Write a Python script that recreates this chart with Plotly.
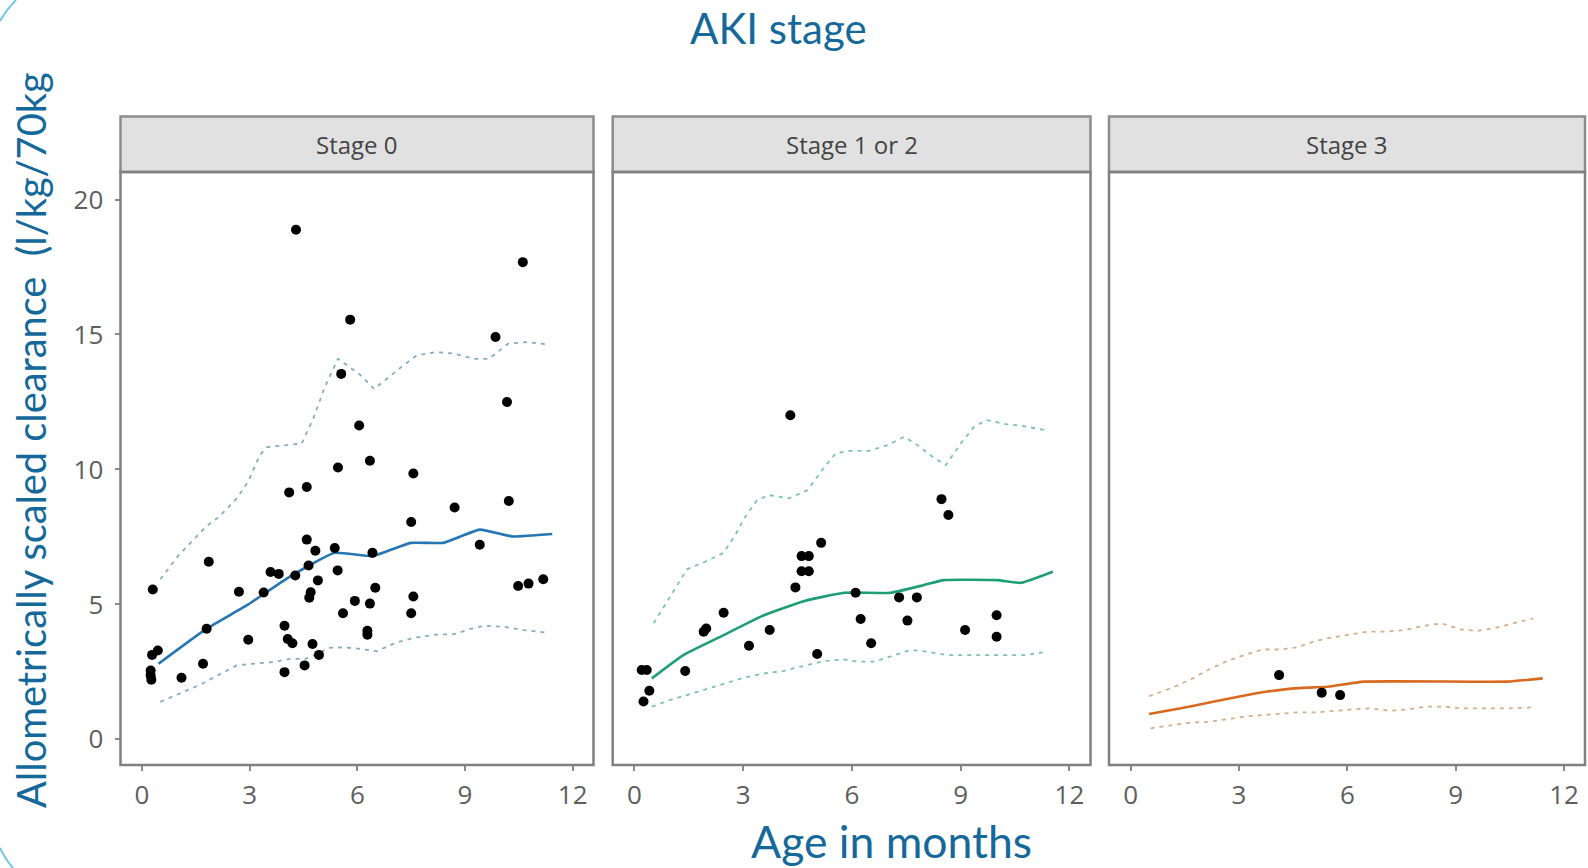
import plotly.graph_objects as go

# ---- Observed clearance per AKI stage (age in months, clearance l/kg/70kg) ----
stage0_age = [4.29, 10.61, 5.80, 9.85, 5.55, 10.17, 6.05, 5.46, 6.35, 7.56, 4.10, 4.59,
              8.71, 10.22, 7.50, 4.59, 4.83, 5.37, 6.42, 9.41, 1.86, 3.58, 3.81, 4.27,
              4.64, 5.45, 4.90, 6.50, 0.30, 2.70, 3.39, 4.70, 4.66, 5.93, 6.35, 7.56,
              5.60, 7.50, 6.28, 6.28, 10.48, 10.77, 11.18, 1.80, 3.97, 2.96, 4.06, 4.19,
              4.75, 4.93, 0.44, 0.28, 1.70, 4.53, 3.97, 1.10, 0.24, 0.24, 0.26]
stage0_cl = [18.88, 17.68, 15.55, 14.91, 13.54, 12.50, 11.63, 10.07, 10.32, 9.85, 9.15, 9.35,
             8.59, 8.83, 8.05, 7.40, 6.99, 7.09, 6.91, 7.21, 6.58, 6.20, 6.13, 6.07,
             6.44, 6.26, 5.89, 5.62, 5.55, 5.47, 5.44, 5.45, 5.25, 5.13, 5.03, 5.29,
             4.67, 4.67, 4.02, 3.88, 5.68, 5.77, 5.93, 4.10, 4.21, 3.69, 3.72, 3.56,
             3.53, 3.13, 3.29, 3.13, 2.80, 2.74, 2.49, 2.28, 2.55, 2.37, 2.21]

stage12_age = [4.30, 8.47, 8.66, 5.15, 4.61, 4.81, 4.61, 4.81, 4.44, 6.10, 7.30, 7.79,
               2.46, 1.98, 1.91, 3.73, 6.24, 7.53, 9.12, 9.99, 9.99, 3.16, 6.53, 5.04,
               1.40, 0.20, 0.34, 0.41, 0.25]
stage12_cl = [12.01, 8.90, 8.31, 7.28, 6.79, 6.79, 6.23, 6.23, 5.63, 5.43, 5.26, 5.26,
              4.69, 4.11, 3.99, 4.05, 4.46, 4.40, 4.05, 4.60, 3.80, 3.47, 3.56, 3.16,
              2.53, 2.57, 2.57, 1.80, 1.40]

stage3_age = [4.11, 5.29, 5.80]
stage3_cl = [2.38, 1.73, 1.64]

# ---- Model prediction: median and 5th/95th percentile curves ----
s0_med_age = [0.46, 1.80, 2.96, 4.13, 5.37, 6.42, 7.49, 8.39, 9.41, 10.31, 11.43]
s0_med = [2.80, 4.10, 5.00, 6.04, 6.91, 6.79, 7.28, 7.28, 7.77, 7.52, 7.61]
s0_hi_age = [0.51, 1.00, 1.79, 2.16, 2.64, 2.96, 3.28, 3.49, 4.45, 4.77, 5.09, 5.46,
             6.05, 6.47, 7.22, 7.65, 8.18, 8.71, 9.24, 9.67, 10.20, 10.73, 11.32]
s0_hi = [5.93, 6.79, 7.89, 8.26, 8.93, 9.55, 10.53, 10.83, 10.96, 11.88, 13.04, 14.10,
         13.54, 12.98, 13.79, 14.22, 14.35, 14.29, 14.10, 14.10, 14.66, 14.72, 14.63]
s0_lo_age = [0.51, 1.04, 1.68, 2.11, 2.64, 3.07, 3.60, 4.13, 4.56, 4.88, 5.20, 5.62,
             6.10, 6.53, 7.11, 7.65, 8.18, 8.71, 9.14, 9.56, 10.10, 10.63, 11.21]
s0_lo = [1.39, 1.69, 2.06, 2.37, 2.74, 2.80, 2.86, 2.98, 2.98, 3.17, 3.39, 3.41,
         3.35, 3.26, 3.60, 3.78, 3.88, 3.90, 4.09, 4.21, 4.17, 4.05, 3.96]

s12_med_age = [0.48, 1.35, 2.46, 3.57, 4.67, 5.78, 7.07, 7.99, 8.54, 10.02, 10.66, 11.54]
s12_med = [2.26, 3.12, 3.86, 4.60, 5.12, 5.43, 5.43, 5.72, 5.90, 5.90, 5.80, 6.21]
s12_hi_age = [0.53, 0.89, 1.22, 1.45, 1.95, 2.46, 2.78, 3.06, 3.38, 3.71, 4.26, 4.77,
              5.18, 5.55, 5.96, 6.47, 6.98, 7.44, 7.81, 8.22, 8.59, 9.00, 9.37, 9.70,
              10.25, 10.76, 11.31]
s12_hi = [4.30, 5.10, 5.84, 6.30, 6.58, 6.91, 7.57, 8.25, 8.86, 9.05, 8.93, 9.23,
          9.98, 10.60, 10.69, 10.69, 10.90, 11.21, 10.90, 10.47, 10.16, 10.96, 11.58, 11.83,
          11.68, 11.60, 11.46]
s12_lo_age = [0.48, 0.99, 1.54, 2.05, 2.55, 3.06, 3.57, 4.12, 4.58, 5.23, 5.78, 6.15,
              6.61, 7.16, 7.62, 8.08, 8.64, 9.19, 10.20, 10.76, 11.26]
s12_lo = [1.21, 1.46, 1.68, 1.89, 2.10, 2.30, 2.44, 2.54, 2.69, 2.90, 2.96, 2.88,
          2.88, 3.12, 3.31, 3.25, 3.12, 3.12, 3.12, 3.12, 3.22]

s3_med_age = [0.51, 1.39, 2.31, 3.23, 3.79, 4.53, 5.45, 6.47, 10.44, 11.41]
s3_med = [0.94, 1.15, 1.40, 1.64, 1.77, 1.89, 1.95, 2.14, 2.14, 2.26]
s3_hi_age = [0.51, 1.11, 1.66, 2.17, 2.63, 3.14, 3.65, 4.16, 4.62, 5.13, 5.59, 6.10,
             6.56, 7.07, 7.58, 8.09, 8.60, 9.15, 9.61, 10.12, 10.63, 11.14]
s3_hi = [1.60, 1.89, 2.22, 2.59, 2.88, 3.12, 3.33, 3.33, 3.41, 3.65, 3.78, 3.90,
         3.99, 3.99, 4.05, 4.20, 4.30, 4.07, 4.02, 4.14, 4.32, 4.48]
s3_lo_age = [0.55, 1.11, 1.66, 2.17, 2.68, 3.14, 3.65, 4.16, 4.62, 5.13, 5.64, 6.15,
             6.65, 7.16, 7.67, 8.18, 8.69, 9.15, 9.70, 10.17, 10.63, 11.18]
s3_lo = [0.41, 0.53, 0.62, 0.65, 0.74, 0.84, 0.90, 0.96, 1.00, 1.00, 1.06, 1.11,
         1.15, 1.06, 1.11, 1.21, 1.21, 1.15, 1.15, 1.15, 1.15, 1.19]

strip_labels = ["Stage 0", "Stage 1 or 2", "Stage 3"]
x_ticks = [0, 3, 6, 9, 12]
y_ticks = [0, 5, 10, 15, 20]

panels = [
    dict(obs=(stage0_age, stage0_cl), med=(s0_med_age, s0_med), hi=(s0_hi_age, s0_hi),
         lo=(s0_lo_age, s0_lo), med_col="#2676b3", band_col="#86aec0"),
    dict(obs=(stage12_age, stage12_cl), med=(s12_med_age, s12_med), hi=(s12_hi_age, s12_hi),
         lo=(s12_lo_age, s12_lo), med_col="#1d9e74", band_col="#7cc3ab"),
    dict(obs=(stage3_age, stage3_cl), med=(s3_med_age, s3_med), hi=(s3_hi_age, s3_hi),
         lo=(s3_lo_age, s3_lo), med_col="#d9691f", band_col="#d2b08a"),
]

W, H = 1588, 868
x_domains = [(120.5 / W, 593.5 / W), (612.7 / W, 1090.5 / W), (1109.0 / W, 1585.0 / W)]
plot_bottom = 1 - 765 / H
plot_top = 1 - 172 / H
strip_top = 1 - 116.5 / H

tick_font = dict(family="Open Sans", size=26, color="#5e5e5e")

fig = go.Figure()
shapes = []
annotations = []

for i, p in enumerate(panels):
    n = "" if i == 0 else str(i + 1)
    xref, yref = "x" + n, "y" + n
    for key in ("hi", "lo"):
        fig.add_trace(go.Scatter(x=p[key][0], y=p[key][1], mode="lines", xaxis=xref, yaxis=yref,
                                 line=dict(color=p["band_col"], width=1.8, dash="4px,5px"),
                                 showlegend=False, hoverinfo="skip"))
    fig.add_trace(go.Scatter(x=p["med"][0], y=p["med"][1], mode="lines", xaxis=xref, yaxis=yref,
                             line=dict(color=p["med_col"], width=2.6, shape="spline", smoothing=0.4),
                             showlegend=False))
    fig.add_trace(go.Scatter(x=p["obs"][0], y=p["obs"][1], mode="markers", xaxis=xref, yaxis=yref,
                             marker=dict(color="black", size=10), showlegend=False))

    d = x_domains[i]
    fig.update_layout(**{
        "xaxis" + n: dict(domain=list(d), range=[-0.6, 12.58], tickvals=x_ticks,
                          ticks="outside", ticklen=5, tickwidth=1.5, tickcolor="#8a8a8a",
                          showgrid=False, zeroline=False, showline=False,
                          tickfont=tick_font, ticklabelstandoff=2, anchor=yref),
        "yaxis" + n: dict(domain=[plot_bottom, plot_top], range=[-0.95, 21.02], tickvals=y_ticks,
                          ticks="outside" if i == 0 else "", ticklen=5, tickwidth=1.5,
                          tickcolor="#8a8a8a", showticklabels=(i == 0),
                          showgrid=False, zeroline=False, showline=False,
                          tickfont=tick_font, ticklabelstandoff=6, anchor=xref),
    })
    # panel border
    shapes.append(dict(type="rect", xref="paper", yref="paper", x0=d[0], x1=d[1],
                       y0=plot_bottom, y1=plot_top, line=dict(color="#808080", width=2.5),
                       fillcolor="rgba(0,0,0,0)", layer="above"))
    # facet strip
    shapes.append(dict(type="rect", xref="paper", yref="paper", x0=d[0], x1=d[1],
                       y0=plot_top, y1=strip_top, line=dict(color="#8c8c8c", width=2.5),
                       fillcolor="#e1e1e1", layer="below"))
    annotations.append(dict(text=strip_labels[i], xref="paper", yref="paper",
                            x=(d[0] + d[1]) / 2, y=(plot_top + strip_top) / 2,
                            showarrow=False, xanchor="center", yanchor="middle",
                            font=dict(family="Open Sans", size=24, color="#444444")))

title_col = "#14699a"
annotations += [
    dict(text="AKI stage", xref="paper", yref="paper", x=778 / W, y=1 - 28 / H,
         showarrow=False, xanchor="center", yanchor="middle",
         font=dict(family="Lato", size=42, color=title_col)),
    dict(text="Age in months", xref="paper", yref="paper", x=891 / W, y=1 - 840 / H,
         showarrow=False, xanchor="center", yanchor="middle",
         font=dict(family="Lato", size=44.5, color=title_col)),
    dict(text="Allometrically scaled clearance  (l/kg/70kg", xref="paper", yref="paper",
         x=30 / W, y=1 - 440 / H, textangle=-90, showarrow=False,
         xanchor="center", yanchor="middle",
         font=dict(family="Lato", size=39.8, color=title_col)),
]

# thin decorative arcs in the left corners
shapes += [
    dict(type="path", xref="paper", yref="paper",
         path=f"M 0 {1 - 21 / H} Q {6 / W} {1 - 10 / H} {16 / W} 1",
         line=dict(color="#6cc6e2", width=2)),
    dict(type="path", xref="paper", yref="paper",
         path=f"M 0 {1 - 848 / H} Q {5 / W} {1 - 859 / H} {13 / W} 0",
         line=dict(color="#6cc6e2", width=2)),
]

fig.update_layout(width=W, height=H, margin=dict(l=0, r=0, t=0, b=0),
                  paper_bgcolor="white", plot_bgcolor="white",
                  shapes=shapes, annotations=annotations, showlegend=False)

fig.write_html("out.html", config={"displayModeBar": False})
